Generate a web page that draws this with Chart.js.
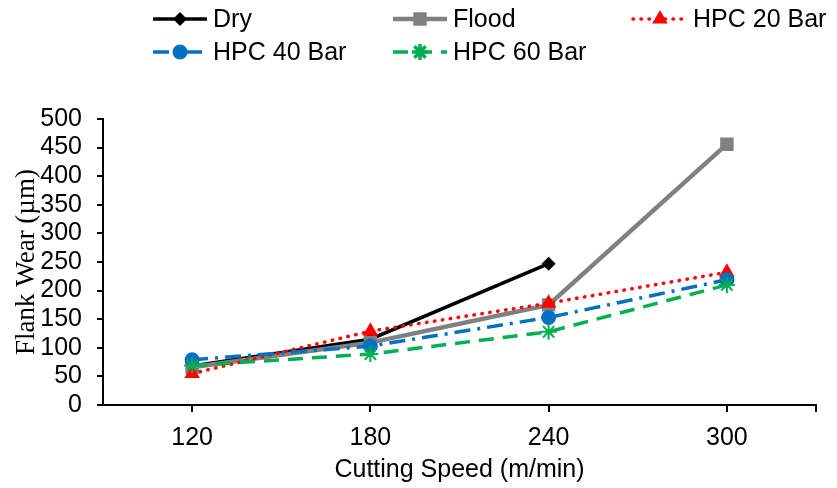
<!DOCTYPE html>
<html>
<head>
<meta charset="utf-8">
<script src="https://cdn.jsdelivr.net/npm/chart.js@4.4.1/dist/chart.umd.min.js"></script>
<style>
  html, body { margin: 0; padding: 0; background: #fff; }
  #wrap { width: 837px; height: 488px; }
</style>
</head>
<body>
<div id="wrap"><canvas id="wearChart" width="837" height="488"></canvas></div>
<script>
const speeds = ['120', '180', '240', '300'];
const dry = [68, 115, 247, null];
const flood = [66, 109, 175, 456];
const hpc20 = [55, 129, 178, 232];
const hpc40 = [79, 103, 153, 219];
const hpc60 = [69, 89, 128, 210];

const sans = 'Arial, "Liberation Sans", sans-serif';
const serif = '"Times New Roman", "Liberation Serif", serif';

function series(label, data, color, width, dash, style, radius, order) {
    return {
        label: label,
        data: data,
        borderColor: color,
        backgroundColor: color,
        borderWidth: width,
        borderDash: dash,
        borderCapStyle: dash.length && dash[0] < 1 ? 'round' : 'butt',
        pointStyle: style,
        pointRadius: radius,
        pointHoverRadius: radius,
        pointBackgroundColor: color,
        pointBorderColor: color,
        pointBorderWidth: style === 'star' ? 2 : 0,
        tension: 0,
        spanGaps: false,
        order: order
    };
}

const datasets = [
    series('Dry', dry, '#000000', 3.5, [], 'rectRot', 7, 5),
    series('Flood', flood, '#808080', 4.5, [], 'rect', 9.5, 4),
    series('HPC 20 Bar', hpc20, '#ff0000', 3.5, [0.5, 7.5], 'triangle', 9, 3),
    series('HPC 40 Bar', hpc40, '#0070c0', 3.5, [16, 7, 3, 7], 'circle', 7.5, 2),
    series('HPC 60 Bar', hpc60, '#00b050', 3.5, [15, 9], 'star', 8, 1)
];

// legend laid out in fixed columns like the original
const legendSlots = [
    { x: 153, y: 19 }, { x: 393, y: 19 }, { x: 633, y: 19 },
    { x: 153, y: 52 }, { x: 393, y: 52 }
];
const keyLength = 54;

const legendPlugin = {
    id: 'fixedLegend',
    afterDraw(chart) {
        const ctx = chart.ctx;
        chart.data.datasets.forEach((ds, i) => {
            const slot = legendSlots[i];
            ctx.save();
            ctx.strokeStyle = ds.borderColor;
            ctx.lineWidth = ds.borderWidth;
            ctx.lineCap = ds.borderCapStyle;
            ctx.setLineDash(ds.borderDash);
            ctx.beginPath();
            ctx.moveTo(slot.x, slot.y);
            ctx.lineTo(slot.x + keyLength, slot.y);
            ctx.stroke();
            ctx.setLineDash([]);
            ctx.fillStyle = ds.backgroundColor;
            ctx.strokeStyle = ds.borderColor;
            Chart.helpers.drawPoint(ctx, {
                pointStyle: ds.pointStyle,
                radius: ds.pointRadius,
                borderWidth: ds.pointBorderWidth,
                rotation: 0
            }, slot.x + keyLength / 2, slot.y);
            ctx.fillStyle = '#000';
            ctx.font = '25px ' + sans;
            ctx.textBaseline = 'middle';
            ctx.textAlign = 'left';
            ctx.fillText(ds.label, slot.x + keyLength + 6, slot.y + 1);
            ctx.restore();
        });
        // end tick mark on the right of the x axis
        const area = chart.chartArea;
        ctx.save();
        ctx.strokeStyle = '#000';
        ctx.lineWidth = 2;
        ctx.beginPath();
        ctx.moveTo(area.right, area.bottom);
        ctx.lineTo(area.right, area.bottom + 7);
        ctx.stroke();
        ctx.restore();
    }
};

new Chart(document.getElementById('wearChart'), {
    type: 'line',
    data: { labels: speeds, datasets: datasets },
    options: {
        responsive: false,
        animation: false,
        layout: { padding: { top: 119, right: 21, left: 0, bottom: 0 } },
        plugins: { legend: { display: false }, tooltip: { enabled: false } },
        scales: {
            x: {
                offset: true,
                afterFit: (scale) => { scale.height = 83; },
                grid: { drawOnChartArea: false, color: '#000', lineWidth: 2, tickLength: 7, offset: false },
                border: { color: '#000', width: 2 },
                ticks: { color: '#000', font: { family: sans, size: 25 }, padding: 11, maxRotation: 0 },
                title: {
                    display: true, text: 'Cutting Speed (m/min)', color: '#000',
                    font: { family: sans, size: 25 }, padding: { top: 0, bottom: 3 }
                }
            },
            y: {
                min: 0,
                max: 500,
                afterFit: (scale) => { scale.width = 103; },
                grid: { drawOnChartArea: false, color: '#000', lineWidth: 2, tickLength: 6 },
                border: { color: '#000', width: 2 },
                ticks: {
                    stepSize: 50, autoSkip: false, color: '#000',
                    font: { family: sans, size: 25 }, padding: 15
                },
                title: {
                    display: true, text: 'Flank Wear (µm)', color: '#000',
                    font: { family: serif, size: 27 }, padding: { top: 11, bottom: 0 }
                }
            }
        }
    },
    plugins: [legendPlugin]
});
</script>
</body>
</html>
